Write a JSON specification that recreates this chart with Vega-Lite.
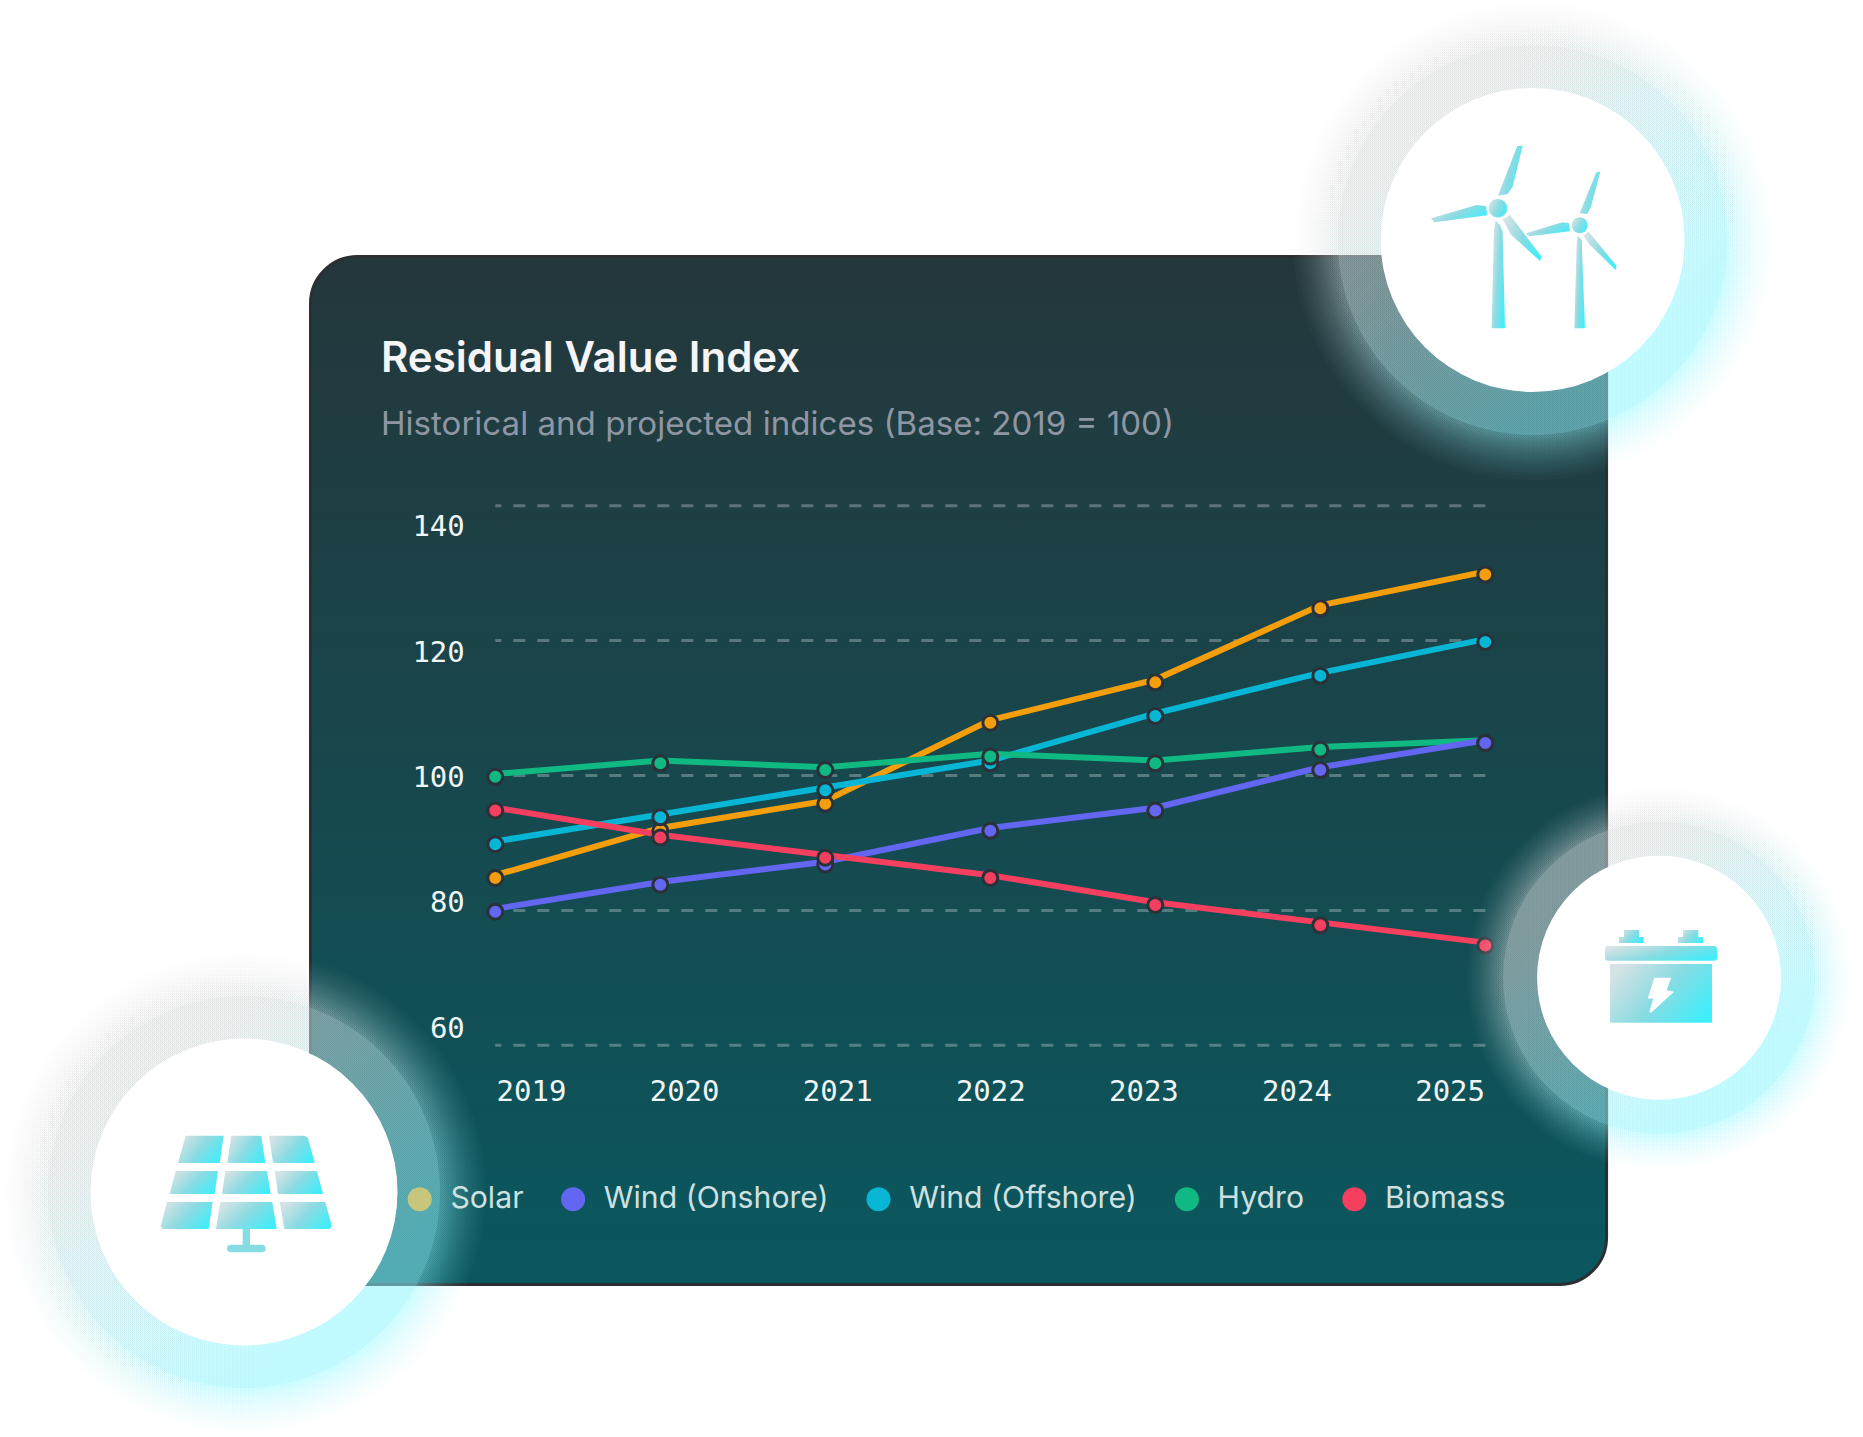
{
  "$schema": "https://vega.github.io/schema/vega-lite/v6.json",
  "autosize": "none",
  "width": 990,
  "height": 539.6,
  "padding": {"left": 495.3, "top": 505.7, "right": 377.7, "bottom": 391.7},
  "background": "#ffffff",
  "title": {
    "text": "Residual Value Index",
    "subtitle": "Historical and projected indices (Base: 2019 = 100)",
    "anchor": "start",
    "frame": "group",
    "dx": -114.3,
    "offset": -443,
    "zindex": 1,
    "font": "Inter",
    "fontSize": 42,
    "fontWeight": 600,
    "color": "#f5f5f7",
    "subtitleFont": "Inter",
    "subtitleFontSize": 33.1,
    "subtitleFontWeight": 400,
    "subtitleColor": "#8f96a3",
    "subtitlePadding": 27.5
  },
  "data": {
    "values": [
      {"series": "Solar", "year": 2019, "value": 85},
      {"series": "Solar", "year": 2020, "value": 92},
      {"series": "Solar", "year": 2021, "value": 96},
      {"series": "Solar", "year": 2022, "value": 108},
      {"series": "Solar", "year": 2023, "value": 114},
      {"series": "Solar", "year": 2024, "value": 125},
      {"series": "Solar", "year": 2025, "value": 130},
      {"series": "Wind (Offshore)", "year": 2019, "value": 90},
      {"series": "Wind (Offshore)", "year": 2020, "value": 94},
      {"series": "Wind (Offshore)", "year": 2021, "value": 98},
      {"series": "Wind (Offshore)", "year": 2022, "value": 102},
      {"series": "Wind (Offshore)", "year": 2023, "value": 109},
      {"series": "Wind (Offshore)", "year": 2024, "value": 115},
      {"series": "Wind (Offshore)", "year": 2025, "value": 120},
      {"series": "Hydro", "year": 2019, "value": 100},
      {"series": "Hydro", "year": 2020, "value": 102},
      {"series": "Hydro", "year": 2021, "value": 101},
      {"series": "Hydro", "year": 2022, "value": 103},
      {"series": "Hydro", "year": 2023, "value": 102},
      {"series": "Hydro", "year": 2024, "value": 104},
      {"series": "Hydro", "year": 2025, "value": 105},
      {"series": "Wind (Onshore)", "year": 2019, "value": 80},
      {"series": "Wind (Onshore)", "year": 2020, "value": 84},
      {"series": "Wind (Onshore)", "year": 2021, "value": 87},
      {"series": "Wind (Onshore)", "year": 2022, "value": 92},
      {"series": "Wind (Onshore)", "year": 2023, "value": 95},
      {"series": "Wind (Onshore)", "year": 2024, "value": 101},
      {"series": "Wind (Onshore)", "year": 2025, "value": 105},
      {"series": "Biomass", "year": 2019, "value": 95},
      {"series": "Biomass", "year": 2020, "value": 91},
      {"series": "Biomass", "year": 2021, "value": 88},
      {"series": "Biomass", "year": 2022, "value": 85},
      {"series": "Biomass", "year": 2023, "value": 81},
      {"series": "Biomass", "year": 2024, "value": 78},
      {"series": "Biomass", "year": 2025, "value": 75}
    ]
  },
  "encoding": {
    "x": {
      "field": "year",
      "type": "quantitative",
      "title": null,
      "scale": {"domain": [2019, 2025], "nice": false, "zero": false},
      "axis": {
        "values": [2019, 2020, 2021, 2022, 2023, 2024, 2025],
        "format": "d",
        "grid": false,
        "domain": false,
        "ticks": false,
        "zindex": 1,
        "labelFont": "DejaVu Sans Mono",
        "labelFontSize": 29,
        "labelColor": "#f0f5f5",
        "labelBaseline": "middle",
        "labelPadding": 46,
        "labelFlush": false,
        "labelOverlap": false,
        "labelOffset": {"expr": "(2022 - datum.value) * 11.9"}
      }
    },
    "y": {
      "field": "value",
      "type": "quantitative",
      "title": null,
      "scale": {"domain": [60, 140], "nice": false, "zero": false},
      "axis": {
        "values": [60, 80, 100, 120, 140],
        "grid": false,
        "domain": false,
        "ticks": false,
        "zindex": 1,
        "labelFont": "DejaVu Sans Mono",
        "labelFontSize": 29,
        "labelColor": "#f0f5f5",
        "labelBaseline": "middle",
        "labelPadding": 31,
        "labelFlush": false,
        "labelOverlap": false,
        "labelOffset": {"expr": "(datum.value - 100) * 0.475 + 2"}
      }
    }
  },
  "layer": [
    {
      "data": {"values": [{"year": 2017.88, "year2": 2025.735, "value": 176.95, "value2": 24.54}]},
      "mark": {
        "type": "rect",
        "cornerRadius": 47,
        "stroke": "#2b2f33",
        "strokeWidth": 3,
        "fill": {
          "gradient": "linear",
          "x1": 0, "y1": 0, "x2": 0, "y2": 1,
          "stops": [
            {"offset": 0, "color": "#24373b"},
            {"offset": 1, "color": "#0a585f"}
          ]
        }
      },
      "encoding": {
        "x2": {"field": "year2"},
        "y2": {"field": "value2"}
      }
    },
    {
      "data": {
        "values": [
          {"year": 2019, "year2": 2025, "value": 60},
          {"year": 2019, "year2": 2025, "value": 80},
          {"year": 2019, "year2": 2025, "value": 100},
          {"year": 2019, "year2": 2025, "value": 120},
          {"year": 2019, "year2": 2025, "value": 140}
        ]
      },
      "mark": {
        "type": "rule",
        "stroke": "#ffffff",
        "strokeOpacity": 0.28,
        "strokeWidth": 3,
        "strokeDash": [12, 12],
        "strokeDashOffset": 6
      },
      "encoding": {
        "x2": {"field": "year2"}
      }
    },
    {
      "mark": {"type": "line", "strokeWidth": 6, "yOffset": -1.5},
      "encoding": {
        "stroke": {
          "field": "series",
          "type": "nominal",
          "legend": null,
          "scale": {
            "domain": ["Biomass", "Hydro", "Solar", "Wind (Offshore)", "Wind (Onshore)"],
            "range": ["#f43f5e", "#10b981", "#f59e0b", "#06b6d4", "#6366f1"]
          }
        }
      }
    },
    {
      "mark": {"type": "point", "filled": true, "opacity": 1, "size": 225, "stroke": "#2a3138", "strokeWidth": 3, "yOffset": 1.3},
      "encoding": {
        "fill": {
          "field": "series",
          "type": "nominal",
          "legend": null,
          "scale": {
            "domain": ["Biomass", "Hydro", "Solar", "Wind (Offshore)", "Wind (Onshore)"],
            "range": ["#f43f5e", "#10b981", "#f59e0b", "#06b6d4", "#6366f1"]
          }
        }
      }
    },
    {
      "mark": {"type": "point", "filled": true, "opacity": 0, "size": 10},
      "encoding": {
        "color": {
          "field": "series",
          "type": "nominal",
          "scale": {
            "domain": ["Solar", "Wind (Onshore)", "Wind (Offshore)", "Hydro", "Biomass"],
            "range": ["#c8c67c", "#6366f1", "#06b6d4", "#10b981", "#f43f5e"]
          },
          "legend": {
            "title": null,
            "orient": "none",
            "legendX": -90.7,
            "legendY": 678,
            "zindex": 1,
            "direction": "horizontal",
            "columns": 5,
            "padding": 0,
            "columnPadding": 34.4,
            "symbolType": "circle",
            "symbolSize": 576,
            "symbolOpacity": 1,
            "symbolStrokeWidth": 0,
            "labelFont": "Inter",
            "labelFontSize": 30.2,
            "labelColor": "#cfe0e0",
            "labelOpacity": 1,
            "labelOffset": 15.6,
            "labelLimit": 400
          }
        }
      }
    },
    {
      "data": {
        "values": [
          {"badge": "wind", "year": 2025.287, "value": 179.4, "radius": 197},
          {"badge": "wind", "year": 2025.287, "value": 179.4, "radius": 198},
          {"badge": "wind", "year": 2025.287, "value": 179.4, "radius": 199},
          {"badge": "wind", "year": 2025.287, "value": 179.4, "radius": 200},
          {"badge": "wind", "year": 2025.287, "value": 179.4, "radius": 201},
          {"badge": "wind", "year": 2025.287, "value": 179.4, "radius": 202},
          {"badge": "wind", "year": 2025.287, "value": 179.4, "radius": 203},
          {"badge": "wind", "year": 2025.287, "value": 179.4, "radius": 205},
          {"badge": "wind", "year": 2025.287, "value": 179.4, "radius": 206},
          {"badge": "wind", "year": 2025.287, "value": 179.4, "radius": 208},
          {"badge": "wind", "year": 2025.287, "value": 179.4, "radius": 209},
          {"badge": "wind", "year": 2025.287, "value": 179.4, "radius": 211},
          {"badge": "wind", "year": 2025.287, "value": 179.4, "radius": 212},
          {"badge": "wind", "year": 2025.287, "value": 179.4, "radius": 214},
          {"badge": "wind", "year": 2025.287, "value": 179.4, "radius": 216},
          {"badge": "wind", "year": 2025.287, "value": 179.4, "radius": 218},
          {"badge": "wind", "year": 2025.287, "value": 179.4, "radius": 220},
          {"badge": "wind", "year": 2025.287, "value": 179.4, "radius": 222},
          {"badge": "wind", "year": 2025.287, "value": 179.4, "radius": 224},
          {"badge": "wind", "year": 2025.287, "value": 179.4, "radius": 227},
          {"badge": "wind", "year": 2025.287, "value": 179.4, "radius": 230},
          {"badge": "wind", "year": 2025.287, "value": 179.4, "radius": 233},
          {"badge": "wind", "year": 2025.287, "value": 179.4, "radius": 236},
          {"badge": "wind", "year": 2025.287, "value": 179.4, "radius": 240},
          {"badge": "solar", "year": 2017.477, "value": 38.25, "radius": 198},
          {"badge": "solar", "year": 2017.477, "value": 38.25, "radius": 199},
          {"badge": "solar", "year": 2017.477, "value": 38.25, "radius": 200},
          {"badge": "solar", "year": 2017.477, "value": 38.25, "radius": 201},
          {"badge": "solar", "year": 2017.477, "value": 38.25, "radius": 202},
          {"badge": "solar", "year": 2017.477, "value": 38.25, "radius": 203},
          {"badge": "solar", "year": 2017.477, "value": 38.25, "radius": 204},
          {"badge": "solar", "year": 2017.477, "value": 38.25, "radius": 206},
          {"badge": "solar", "year": 2017.477, "value": 38.25, "radius": 207},
          {"badge": "solar", "year": 2017.477, "value": 38.25, "radius": 209},
          {"badge": "solar", "year": 2017.477, "value": 38.25, "radius": 210},
          {"badge": "solar", "year": 2017.477, "value": 38.25, "radius": 212},
          {"badge": "solar", "year": 2017.477, "value": 38.25, "radius": 213},
          {"badge": "solar", "year": 2017.477, "value": 38.25, "radius": 215},
          {"badge": "solar", "year": 2017.477, "value": 38.25, "radius": 217},
          {"badge": "solar", "year": 2017.477, "value": 38.25, "radius": 219},
          {"badge": "solar", "year": 2017.477, "value": 38.25, "radius": 221},
          {"badge": "solar", "year": 2017.477, "value": 38.25, "radius": 223},
          {"badge": "solar", "year": 2017.477, "value": 38.25, "radius": 225},
          {"badge": "solar", "year": 2017.477, "value": 38.25, "radius": 228},
          {"badge": "solar", "year": 2017.477, "value": 38.25, "radius": 231},
          {"badge": "solar", "year": 2017.477, "value": 38.25, "radius": 234},
          {"badge": "solar", "year": 2017.477, "value": 38.25, "radius": 237},
          {"badge": "solar", "year": 2017.477, "value": 38.25, "radius": 241},
          {"badge": "battery", "year": 2026.053, "value": 70.02, "radius": 157.6},
          {"badge": "battery", "year": 2026.053, "value": 70.02, "radius": 158.4},
          {"badge": "battery", "year": 2026.053, "value": 70.02, "radius": 159.2},
          {"badge": "battery", "year": 2026.053, "value": 70.02, "radius": 160},
          {"badge": "battery", "year": 2026.053, "value": 70.02, "radius": 160.8},
          {"badge": "battery", "year": 2026.053, "value": 70.02, "radius": 161.6},
          {"badge": "battery", "year": 2026.053, "value": 70.02, "radius": 162.4},
          {"badge": "battery", "year": 2026.053, "value": 70.02, "radius": 164},
          {"badge": "battery", "year": 2026.053, "value": 70.02, "radius": 164.8},
          {"badge": "battery", "year": 2026.053, "value": 70.02, "radius": 166.4},
          {"badge": "battery", "year": 2026.053, "value": 70.02, "radius": 167.2},
          {"badge": "battery", "year": 2026.053, "value": 70.02, "radius": 168.8},
          {"badge": "battery", "year": 2026.053, "value": 70.02, "radius": 169.6},
          {"badge": "battery", "year": 2026.053, "value": 70.02, "radius": 171.2},
          {"badge": "battery", "year": 2026.053, "value": 70.02, "radius": 172.8},
          {"badge": "battery", "year": 2026.053, "value": 70.02, "radius": 174.4},
          {"badge": "battery", "year": 2026.053, "value": 70.02, "radius": 176},
          {"badge": "battery", "year": 2026.053, "value": 70.02, "radius": 177.6},
          {"badge": "battery", "year": 2026.053, "value": 70.02, "radius": 179.2},
          {"badge": "battery", "year": 2026.053, "value": 70.02, "radius": 181.6},
          {"badge": "battery", "year": 2026.053, "value": 70.02, "radius": 184},
          {"badge": "battery", "year": 2026.053, "value": 70.02, "radius": 186.4},
          {"badge": "battery", "year": 2026.053, "value": 70.02, "radius": 188.8},
          {"badge": "battery", "year": 2026.053, "value": 70.02, "radius": 192}
        ]
      },
      "mark": {
        "type": "point",
        "filled": true,
        "opacity": 0.023,
        "strokeWidth": 0,
        "fill": {
          "gradient": "linear",
          "x1": 0.15, "y1": 0.05, "x2": 0.85, "y2": 0.95,
          "stops": [
            {"offset": 0.2, "color": "#d8dada"},
            {"offset": 0.8, "color": "#8ff1fa"}
          ]
        }
      },
      "encoding": {
        "size": {
          "field": "radius",
          "type": "quantitative",
          "legend": null,
          "scale": {"type": "pow", "exponent": 2, "domain": [0, 250], "range": [0, 250000]}
        }
      }
    },
    {
      "data": {
        "values": [
          {"badge": "wind", "year": 2025.287, "value": 179.4, "radius": 195},
          {"badge": "solar", "year": 2017.477, "value": 38.25, "radius": 196},
          {"badge": "battery", "year": 2026.053, "value": 70.02, "radius": 156}
        ]
      },
      "mark": {
        "type": "point",
        "filled": true,
        "opacity": 0.22,
        "strokeWidth": 0,
        "fill": {
          "gradient": "linear",
          "x1": 0.15, "y1": 0.05, "x2": 0.85, "y2": 0.95,
          "stops": [
            {"offset": 0.2, "color": "#d8dada"},
            {"offset": 0.8, "color": "#8ff1fa"}
          ]
        }
      },
      "encoding": {
        "size": {
          "field": "radius",
          "type": "quantitative",
          "legend": null,
          "scale": {"type": "pow", "exponent": 2, "domain": [0, 250], "range": [0, 250000]}
        }
      }
    },
    {
      "data": {
        "values": [
          {"badge": "wind", "year": 2025.287, "value": 179.4, "radius": 152},
          {"badge": "solar", "year": 2017.477, "value": 38.25, "radius": 153.5},
          {"badge": "battery", "year": 2026.053, "value": 70.02, "radius": 122}
        ]
      },
      "mark": {"type": "point", "filled": true, "opacity": 1, "strokeWidth": 0, "fill": "#ffffff"},
      "encoding": {
        "size": {
          "field": "radius",
          "type": "quantitative",
          "legend": null,
          "scale": {"type": "pow", "exponent": 2, "domain": [0, 250], "range": [0, 250000]}
        }
      }
    },
    {
      "data": {
        "values": [
          {"part": "hub1", "year": 2025.287, "value": 179.4},
          {"part": "hub2", "year": 2025.287, "value": 179.4},
          {"part": "b1up", "year": 2025.287, "value": 179.4},
          {"part": "b1left", "year": 2025.287, "value": 179.4},
          {"part": "b1right", "year": 2025.287, "value": 179.4},
          {"part": "t1", "year": 2025.287, "value": 179.4},
          {"part": "b2up", "year": 2025.287, "value": 179.4},
          {"part": "b2left", "year": 2025.287, "value": 179.4},
          {"part": "b2right", "year": 2025.287, "value": 179.4},
          {"part": "t2", "year": 2025.287, "value": 179.4},
          {"part": "pa", "year": 2017.477, "value": 38.25},
          {"part": "pb", "year": 2017.477, "value": 38.25},
          {"part": "pc", "year": 2017.477, "value": 38.25},
          {"part": "pd", "year": 2017.477, "value": 38.25},
          {"part": "pe", "year": 2017.477, "value": 38.25},
          {"part": "pf", "year": 2017.477, "value": 38.25},
          {"part": "pg", "year": 2017.477, "value": 38.25},
          {"part": "ph", "year": 2017.477, "value": 38.25},
          {"part": "pi", "year": 2017.477, "value": 38.25},
          {"part": "term1", "year": 2026.053, "value": 70.02},
          {"part": "term2", "year": 2026.053, "value": 70.02},
          {"part": "lid", "year": 2026.053, "value": 70.02},
          {"part": "body", "year": 2026.053, "value": 70.02}
        ]
      },
      "mark": {
        "type": "point",
        "filled": true,
        "opacity": 1,
        "size": 4,
        "strokeWidth": 0,
        "fill": {
          "gradient": "linear",
          "x1": 0, "y1": 0.25, "x2": 1, "y2": 0.75,
          "stops": [
            {"offset": 0, "color": "#d6e3e5"},
            {"offset": 0.5, "color": "#8adbe2"},
            {"offset": 1, "color": "#3eeefb"}
          ]
        }
      },
      "encoding": {
        "shape": {
          "field": "part",
          "type": "nominal",
          "legend": null,
          "scale": {
            "domain": ["hub1", "hub2", "b1up", "b1left", "b1right", "t1", "b2up", "b2left", "b2right", "t2", "pa", "pb", "pc", "pd", "pe", "pf", "pg", "ph", "pi", "term1", "term2", "lid", "body"],
            "range": [
              "M-44,-31.7A9.3,9.3 0 1 1 -25.4,-31.7A9.3,9.3 0 1 1 -44,-31.7Z",
              "M39,-14.7A8,8 0 1 1 55,-14.7A8,8 0 1 1 39,-14.7Z",
              "M-34.7,-44.3L-15.3,-94L-10,-94.3L-20,-53.3L-25,-46Z",
              "M-101.7,-21.7L-56,-35L-46.7,-34L-45.3,-24.7L-98.3,-17.7Z",
              "M-30,-20.7L-22.7,-25L9,16.7L7.3,21L-22,-5.7Z",
              "M-37,-19.3L-32.7,-15L-30,-8.3L-27.7,88.3L-41,88.3L-38.7,-10Z",
              "M47,-26.7L63.7,-67.7L67.7,-68.3L58.3,-33.3L54.7,-26Z",
              "M-6.7,-6.7L29.7,-17.7L36.3,-16.7L37.3,-8.7L-3.3,-3.7Z",
              "M50.7,-4.3L56,-8.3L84,26L83,30L56.7,4.3Z",
              "M45,-4.3L49,0L52.3,88.3L41.7,88.3L44,3.3Z",
              "M-58.3,-56.3L-20.3,-56.3L-24.3,-29L-66,-29Z",
              "M-12.7,-56.3L17.3,-56.3L21.3,-29L-16.7,-29Z",
              "M25,-56.3L60.7,-56.3L64,-54L70.7,-29L29,-29Z",
              "M-68.3,-21L-26,-21L-29.3,2L-74.3,2Z",
              "M-18.7,-21L23,-21L26.7,2L-22,2Z",
              "M30.7,-21L73,-21L79,2L34,2Z",
              "M-77,10L-31.3,10L-35.3,37L-81,37L-83.3,34.3Z",
              "M-23.7,10L28.3,10L32.7,37L-28,37Z",
              "M35.7,10L81.3,10L87.7,33.7L85.7,37L40.3,37Z",
              "M-35,-47.7L-20,-47.7L-20,-40.7L-15.3,-40.7L-15.3,-34.7L-40,-34.7L-40,-40.7L-35,-40.7Z",
              "M24,-47.7L39.3,-47.7L39.3,-40.7L44,-40.7L44,-34.7L19,-34.7L19,-40.7L24,-40.7Z",
              "M-51,-31.7L55,-31.7Q58,-31.7 58,-28.7L58,-20Q58,-17 55,-17L-51,-17Q-54,-17 -54,-20L-54,-28.7Q-54,-31.7 -51,-31.7Z",
              "M-49,-13.7L53,-13.7L53,45L-49,45Z"
            ]
          }
        }
      }
    },
    {
      "data": {"values": [{"year": 2017.477, "value": 38.25}]},
      "mark": {
        "type": "point",
        "filled": true,
        "opacity": 1,
        "size": 4,
        "strokeWidth": 0,
        "fill": "#85dce3",
        "shape": "M-1.3,37L6,37L6,52.7L18,52.7Q21.7,52.7 21.7,56.5Q21.7,60.3 18,60.3L-13,60.3Q-17,60.3 -17,56.5Q-17,52.7 -13,52.7L-1.3,52.7Z"
      }
    },
    {
      "data": {"values": [{"year": 2026.053, "value": 70.02}]},
      "mark": {
        "type": "point",
        "filled": true,
        "opacity": 1,
        "size": 4,
        "strokeWidth": 0,
        "fill": "#ffffff",
        "shape": "M-4.7,0L12,0L7.7,12.3L15,14L-8,35L-9.7,34L-5.7,20.7L-11.3,20.7Z"
      }
    }
  ]
}
